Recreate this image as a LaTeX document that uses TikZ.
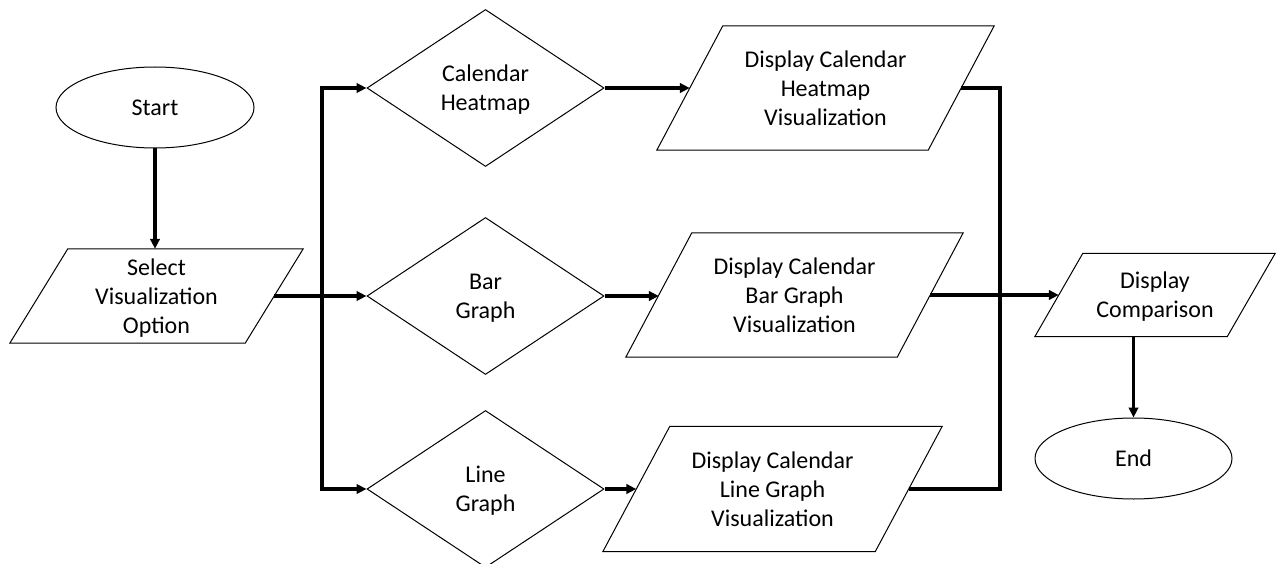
\documentclass[tikz,border=0pt]{standalone}
\usepackage{fontspec}
\setmainfont{Carlito}
\usetikzlibrary{shapes.geometric,arrows.meta,calc}
\newcommand\iobox[2]{%
  \draw[line width=1pt] ([xshift=-#2/2]#1.south west) -- ([xshift=-#2/2]#1.south east)
    -- ([xshift=#2/2]#1.north east) -- ([xshift=#2/2]#1.north west) -- cycle;}
\begin{document}
\begin{tikzpicture}[x=1pt,y=-1pt,
  txt/.style={font=\fontsize{24}{29}\selectfont, align=center, text=black, text depth=-2pt},
  term/.style={txt, ellipse, draw, line width=1pt, minimum width=198pt, minimum height=81pt, inner sep=0pt},
  dec/.style={txt, diamond, draw, line width=1pt, minimum width=237pt, minimum height=157pt, inner sep=0pt},
  io/.style={txt, rectangle, draw=none, inner sep=0pt},
  conn/.style={line width=3.2pt, draw=black},
  arr/.style={conn, -{Triangle[length=10pt,width=9.5pt]}},
]
\useasboundingbox[fill=white] (0,0) rectangle (1276,564);

\node[term] (start) at (155,107.5) {Start};
\node[io, minimum width=235pt, minimum height=94pt] (sel) at (156.5,296) {Select\\Visualization\\Option};
\node[dec] (d1) at (485.5,88) {Calendar\\Heatmap};
\node[dec] (d2) at (485.5,296) {Bar\\Graph};
\node[dec] (d3) at (485.5,489) {Line\\Graph};
\node[io, minimum width=271pt, minimum height=124pt] (p1) at (825.5,88) {Display Calendar\\Heatmap\\Visualization};
\node[io, minimum width=271pt, minimum height=124pt] (p2) at (794.5,295) {Display Calendar\\Bar Graph\\Visualization};
\node[io, minimum width=272pt, minimum height=125pt] (p3) at (772.5,489) {Display Calendar\\Line Graph\\Visualization};
\node[io, minimum width=192pt, minimum height=83pt] (cmp) at (1155,295) {Display\\Comparison};
\node[term, minimum width=197pt] (end) at (1133.5,458.5) {End};

\iobox{sel}{58}
\iobox{p1}{66}
\iobox{p2}{66}
\iobox{p3}{67}
\iobox{cmp}{48}

\coordinate (jl) at (322,296);
\coordinate (jr) at (1000,295);

\draw[arr] (start.south) -- (start.south |- sel.north);
\draw[arr] (sel.east) -- (sel.east -| d2.west);
\draw[arr] (jl) |- (d1.west);
\draw[arr] (jl) |- (d3.west);
\draw[arr] (d1.east) -- (p1.west);
\draw[arr] (d2.east) -- (d2.east -| p2.west);
\draw[arr] (d3.east) -- (p3.west);
\draw[conn] (p1.east) -| (jr);
\draw[conn] (p3.east) -| (jr);
\draw[arr] (p2.east) -- (cmp.west);
\draw[arr] (end.north |- cmp.south) -- (end.north);
\end{tikzpicture}
\end{document}
